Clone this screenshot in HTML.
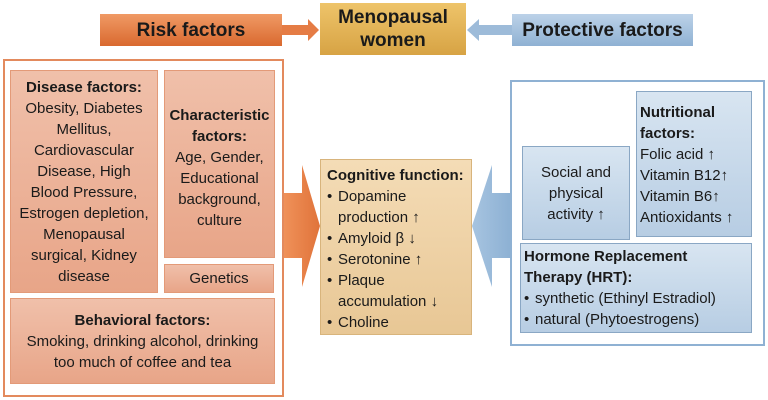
<!DOCTYPE html>
<html><head><meta charset="utf-8"><style>
body{margin:0;width:768px;height:400px;background:#fff;position:relative;overflow:hidden;font-family:"Liberation Sans",sans-serif;color:#1a1a1a}
.a{position:absolute;box-sizing:border-box}
.o{background:linear-gradient(#f0c0aa,#e8a588);border:1px solid #e39a78}
.b{background:linear-gradient(#d8e5f1,#b7cde3);border:1px solid #8aa7c4}
.c{display:flex;flex-direction:column;justify-content:center;align-items:center;text-align:center;font-size:15px;line-height:21px;white-space:nowrap}
b{font-weight:bold}
ul{margin:0;padding:0;list-style:none}
li{position:relative;padding-left:11px}
li:before{content:"•";position:absolute;left:0}
.t{font-size:15px;line-height:21px;white-space:nowrap}
</style></head><body>
<svg class="a" style="left:0;top:0" width="768" height="400">
<defs>
<linearGradient id="og2" x1="0" y1="0" x2="1" y2="0"><stop offset="0" stop-color="#f0925a"/><stop offset="1" stop-color="#e0733a"/></linearGradient>
<linearGradient id="bg2" x1="0" y1="0" x2="1" y2="0"><stop offset="0" stop-color="#a7c4e0"/><stop offset="1" stop-color="#8cb0d3"/></linearGradient>
</defs>
<polygon points="282,25 308,25 308,19 319,30 308,41 308,35 282,35" fill="#e57c45"/>
<polygon points="512,25 479,25 479,19 467,30 479,41 479,35 512,35" fill="#9dbbd9"/>
<polygon points="283,193 302,193 302,165 320,226 302,287 302,258 283,258" fill="url(#og2)"/>
<polygon points="512,193 492,193 492,165 472,226 492,287 492,258 512,258" fill="url(#bg2)"/>
</svg>
<div class="a c" style="left:100px;top:14px;width:182px;height:32px;background:linear-gradient(#f09a65,#d9692f);font-size:19px;font-weight:bold">Risk factors</div>
<div class="a c" style="left:320px;top:3px;width:146px;height:52px;background:linear-gradient(#eec46a,#d7a344);font-size:19px;font-weight:bold;line-height:23px">Menopausal<br>women</div>
<div class="a c" style="left:512px;top:14px;width:181px;height:32px;background:linear-gradient(#bcd2e8,#8fb1d3);font-size:19px;font-weight:bold">Protective factors</div>

<div class="a" style="left:3px;top:59px;width:281px;height:338px;border:2px solid #e38a5d"></div>
<div class="a o c" style="left:10px;top:70px;width:148px;height:223px"><div><b>Disease factors:</b><br>Obesity, Diabetes<br>Mellitus,<br>Cardiovascular<br>Disease, High<br>Blood Pressure,<br>Estrogen depletion,<br>Menopausal<br>surgical, Kidney<br>disease</div></div>
<div class="a o c" style="left:164px;top:70px;width:111px;height:188px;justify-content:flex-start;padding-top:34px"><div><b>Characteristic<br>factors:</b><br>Age, Gender,<br>Educational<br>background,<br>culture</div></div>
<div class="a o c" style="left:164px;top:264px;width:110px;height:29px">Genetics</div>
<div class="a o c" style="left:10px;top:298px;width:265px;height:86px"><div><b>Behavioral factors:</b><br>Smoking, drinking alcohol, drinking<br>too much of coffee and tea</div></div>

<div class="a t" style="left:320px;top:159px;width:152px;height:176px;background:linear-gradient(#f4dcb6,#e8c795);border:1px solid #d8b47c;padding:5px 6px"><b>Cognitive function:</b><ul><li>Dopamine<br>production <b>↑</b></li><li>Amyloid β <b>↓</b></li><li>Serotonine <b>↑</b></li><li>Plaque<br>accumulation <b>↓</b></li><li>Choline</li></ul></div>

<div class="a" style="left:510px;top:80px;width:255px;height:266px;border:2px solid #8fb1d3"></div>
<div class="a b c" style="left:522px;top:146px;width:108px;height:94px"><div>Social and<br>physical<br>activity <b>↑</b></div></div>
<div class="a b t" style="left:636px;top:91px;width:116px;height:146px;padding:10px 3px"><b>Nutritional<br>factors:</b><br>Folic acid <b>↑</b><br>Vitamin B12<b>↑</b><br>Vitamin B6<b>↑</b><br>Antioxidants <b>↑</b></div>
<div class="a b t" style="left:520px;top:243px;width:232px;height:90px;padding:2px 3px"><b>Hormone Replacement<br>Therapy (HRT):</b><ul><li>synthetic (Ethinyl Estradiol)</li><li>natural (Phytoestrogens)</li></ul></div>
</body></html>
